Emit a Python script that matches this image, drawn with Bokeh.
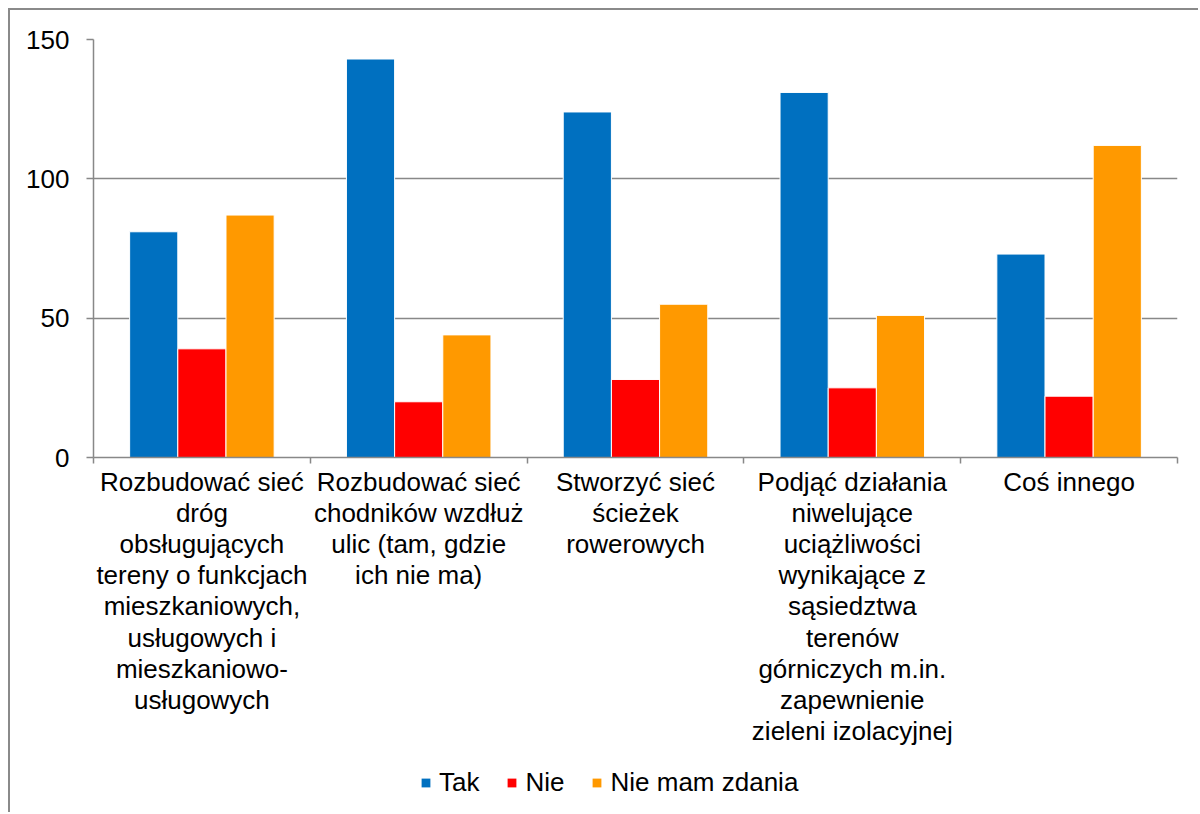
import numpy as np
from bokeh.plotting import figure
from bokeh.layouts import column
from bokeh.models import (Range1d, FixedTicker, Legend, LegendItem, ColumnDataSource)
from bokeh.embed import file_html
from bokeh.resources import INLINE

categories = [
    "Rozbudować sieć\ndróg\nobsługujących\ntereny o funkcjach\nmieszkaniowych,\nusługowych i\nmieszkaniowo-\nusługowych",
    "Rozbudować sieć\nchodników wzdłuż\nulic (tam, gdzie\nich nie ma)",
    "Stworzyć sieć\nścieżek\nrowerowych",
    "Podjąć działania\nniwelujące\nuciążliwości\nwynikające z\nsąsiedztwa\nterenów\ngórniczych m.in.\nzapewnienie\nzieleni izolacyjnej",
    "Coś innego",
]
series_names = ["Tak", "Nie", "Nie mam zdania"]
tak = [81, 143, 124, 131, 73]
nie = [39, 20, 28, 25, 22]
brak = [87, 44, 55, 51, 112]
colors = ["#0070C0", "#FF0000", "#FF9900"]
y_ticks = [0, 50, 100, 150]

FONT = "Liberation Sans"
GRAY = "#888888"

n = len(categories)
centers = np.arange(n) + 0.5
bw = 1 / 4.5  # Excel gap width 150%

p = figure(width=1188, height=750, output_backend="svg", toolbar_location=None,
           x_range=Range1d(0, n), y_range=Range1d(0, 150),
           min_border_left=83, min_border_right=21, min_border_top=29,
           min_border_bottom=303)
p.outline_line_color = None
p.background_fill_color = "white"
p.border_fill_color = "white"

sources = []
renderers = []
for k, (vals, col) in enumerate(zip([tak, nie, brak], colors)):
    src = ColumnDataSource(dict(x=centers + (k - 1) * bw, top=vals))
    sources.append(src)
    r = p.vbar(x="x", top="top", width=bw, bottom=0, source=src,
               fill_color=col, line_color="white", line_width=1)
    renderers.append(r)

# x axis: labels at centres, ticks at boundaries
xa = p.xaxis[0]
xa.ticker = FixedTicker(ticks=list(centers), minor_ticks=list(range(n + 1)))
xa.major_label_overrides = {float(c): lab for c, lab in zip(centers, categories)}
xa.major_tick_out = 0
xa.major_tick_in = 0
xa.minor_tick_out = 6
xa.minor_tick_in = 0
xa.minor_tick_line_color = GRAY
xa.minor_tick_line_width = 1.5
xa.axis_line_color = GRAY
xa.axis_line_width = 1.5
xa.major_label_text_font = FONT
xa.major_label_text_font_size = "26px"
xa.major_label_text_color = "black"
xa.major_label_standoff = 3
xa.major_label_text_line_height = 1.04

ya = p.yaxis[0]
ya.ticker = FixedTicker(ticks=y_ticks)
ya.major_tick_out = 7
ya.major_tick_in = 0
ya.minor_tick_out = 0
ya.minor_tick_in = 0
ya.major_tick_line_color = GRAY
ya.major_tick_line_width = 1.5
ya.axis_line_color = GRAY
ya.axis_line_width = 1.5
ya.major_label_text_font = FONT
ya.major_label_text_font_size = "26px"
ya.major_label_text_color = "black"
ya.major_label_standoff = 17

p.xgrid.grid_line_color = None
p.ygrid.grid_line_color = GRAY
p.ygrid.grid_line_width = 1.5
p.ygrid.ticker = FixedTicker(ticks=y_ticks[1:])

# legend strip below the chart (its zero-width bars lie outside its view; only the legend shows)
lf = figure(width=1188, height=52, output_backend="svg", toolbar_location=None,
            x_range=Range1d(0, n), y_range=Range1d(1000, 1001),
            x_axis_location=None, y_axis_location=None, min_border=0)
lf.outline_line_color = None
lf.grid.visible = False
legend_renderers = [lf.vbar(x="x", top="top", bottom=0, width=0, source=src,
                            fill_color=col, line_color=None)
                    for src, col in zip(sources, colors)]
legend = Legend(items=[LegendItem(label=nm, renderers=[r]) for nm, r in zip(series_names, legend_renderers)],
                orientation="horizontal", location=(327, 14),
                glyph_width=11, glyph_height=11, label_standoff=8, spacing=27,
                label_text_font=FONT, label_text_font_size="26px", label_text_color="black",
                border_line_color=None, background_fill_alpha=0, padding=0, margin=0)
lf.add_layout(legend, "center")

layout = column(p, lf, spacing=0)
layout.margin = (8, 0, 0, 8)
layout.styles = {"border-top": "2px solid #8a8a8a", "border-left": "2px solid #8a8a8a"}

open("out.html", "w").write(file_html(layout, INLINE))
